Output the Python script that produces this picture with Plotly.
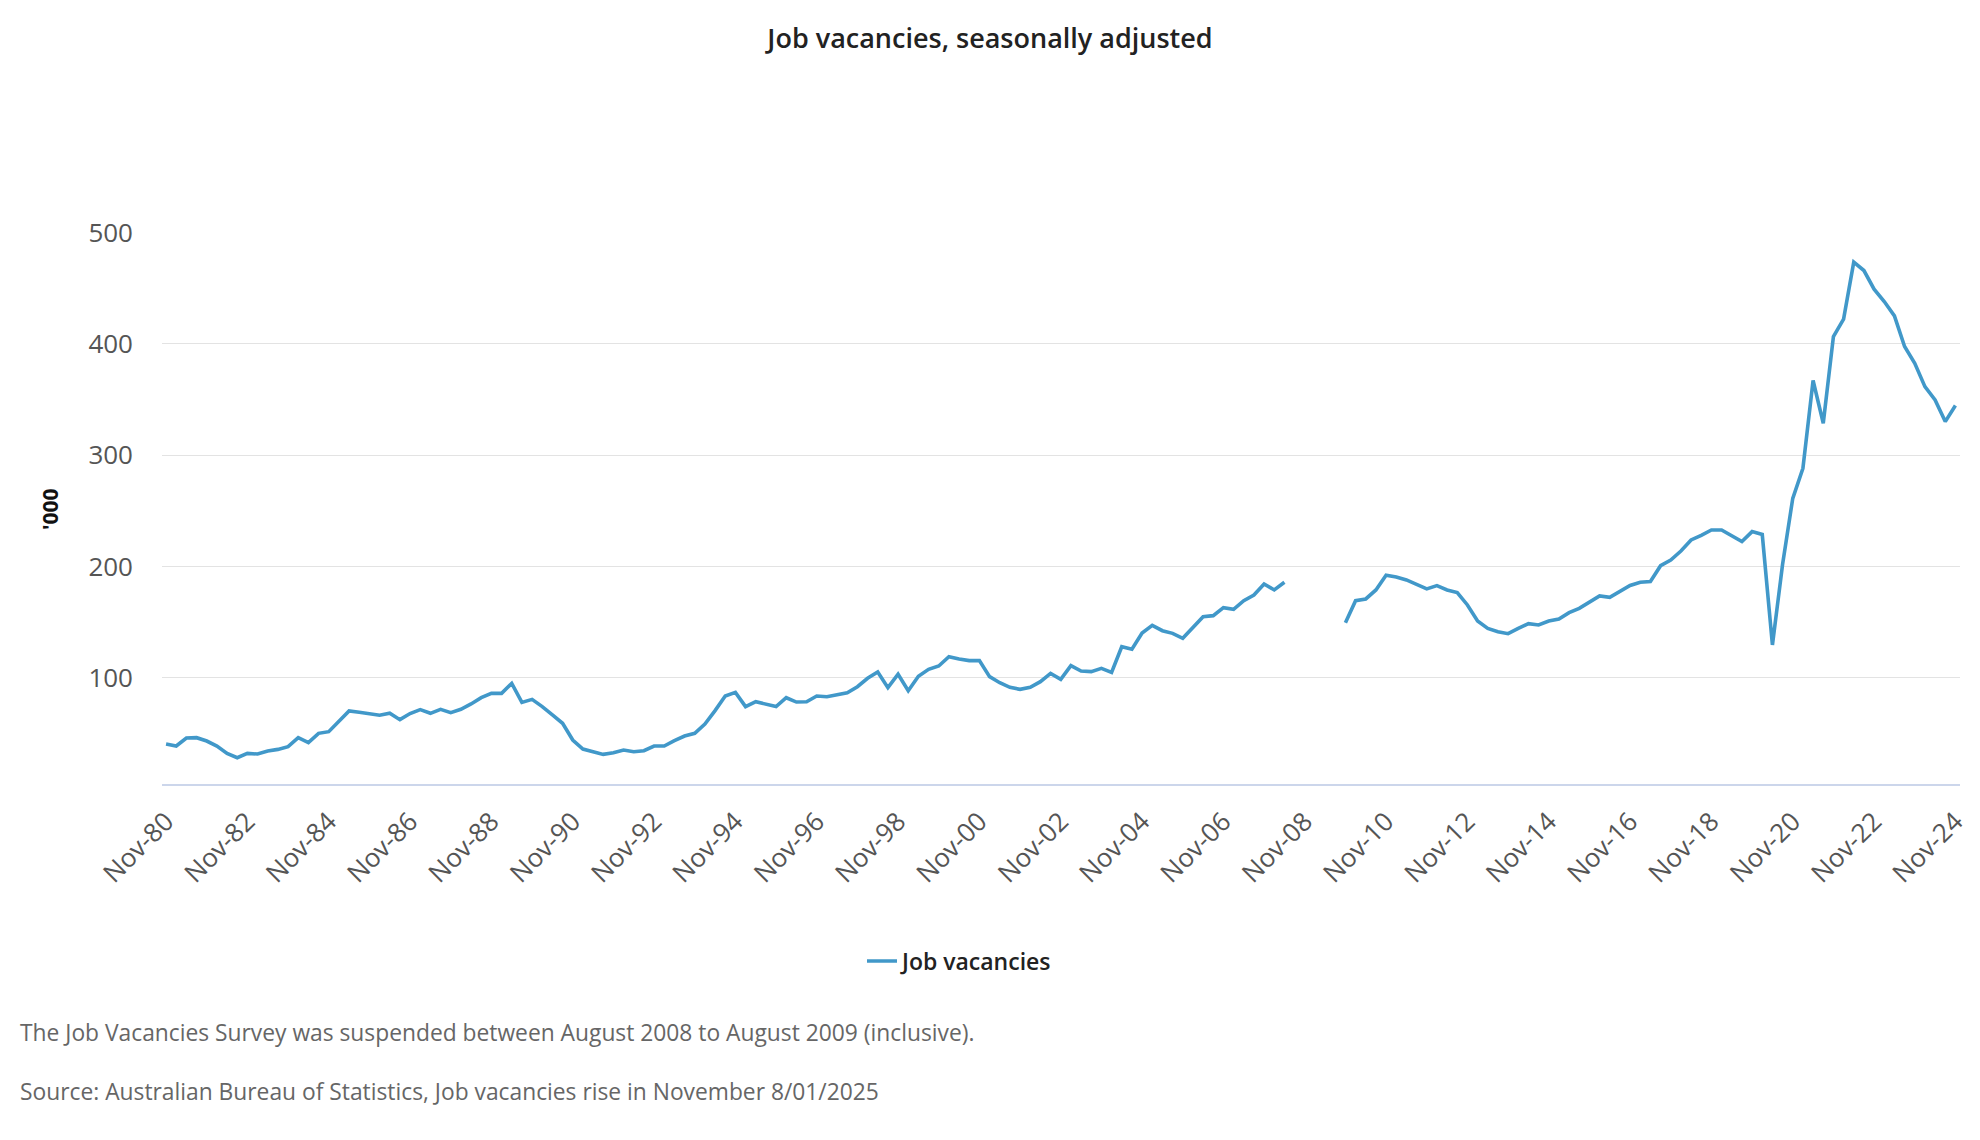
import plotly.graph_objects as go

# Quarterly job vacancies ('000), Nov-80 .. Nov-24; None = survey suspended
months = ["Nov", "Feb", "May", "Aug"]
start_year = 1980
end_year = 2024

vacancies = [
    40.6, 38.8, 46.0, 46.3, 43.3, 38.8, 32.2, 28.3, 32.2, 31.6,
    34.3, 35.8, 38.2, 46.3, 41.8, 50.2, 51.7, 61.3, 70.3, 69.1,
    68.0, 66.5, 68.3, 62.5, 68.0, 71.5, 68.2, 71.8, 68.8, 71.8,
    76.6, 82.2, 86.1, 86.1, 95.1, 78.0, 80.7, 74.2, 66.7, 59.2,
    44.2, 36.1, 33.7, 31.3, 32.8, 35.2, 33.7, 34.6, 38.8, 38.8,
    43.6, 47.8, 50.2, 58.6, 70.6, 83.7, 87.0, 74.2, 78.6, 76.2,
    74.2, 82.2, 78.3, 78.6, 83.7, 83.1, 84.6, 86.7, 92.1, 99.6,
    105.3, 91.2, 103.3, 88.5, 101.5, 107.7, 110.7, 119.0, 116.9, 115.5,
    115.5, 101.1, 95.7, 91.5, 89.7, 91.5, 96.6, 104.1, 98.7, 111.0,
    106.2, 105.6, 108.6, 105.0, 128.0, 125.7, 140.3, 147.2, 142.4, 140.0,
    135.6, 145.4, 155.0, 155.9, 163.1, 161.6, 169.4, 174.5, 184.4, 179.0,
    185.9, None, None, None, None, None, 149.6, 169.4, 170.9, 179.0,
    192.2, 190.7, 188.0, 184.0, 179.9, 182.9, 179.0, 176.6, 165.5, 151.1,
    144.5, 141.5, 139.7, 144.5, 148.7, 147.5, 151.1, 152.9, 158.6, 162.5,
    167.9, 173.6, 172.4, 177.5, 183.0, 185.9, 186.5, 200.8, 205.9, 214.0,
    223.9, 228.1, 232.9, 232.9, 227.8, 222.4, 231.4, 228.8, 129.6, 202.0,
    261.3, 288.3, 367.1, 328.7, 406.6, 422.2, 473.4, 465.9, 449.1, 438.0,
    425.2, 397.6, 382.6, 361.6, 349.7, 330.2, 344.6,
]

# category labels (quarters)
categories = []
for i in range(len(vacancies)):
    m = months[i % 4]
    yr = start_year + (i + 3) // 4 if i % 4 != 0 else start_year + i // 4
    categories.append(f"{m}-{yr % 100:02d}")

tick_labels = [f"Nov-{y % 100:02d}" for y in range(start_year, end_year + 1, 2)]
y_ticks = [100, 200, 300, 400, 500]

title_text = "Job vacancies, seasonally adjusted"
series_name = "Job vacancies"
y_title = "'000"
note1 = "The Job Vacancies Survey was suspended between August 2008 to August 2009 (inclusive)."
note2 = "Source: Australian Bureau of Statistics, Job vacancies rise in November 8/01/2025"

FONT = "Open Sans"
LINE = "#4198C9"

fig = go.Figure()
fig.add_trace(go.Scatter(
    x=categories, y=vacancies, mode="lines", name=series_name,
    line=dict(color=LINE, width=3.6), connectgaps=False,
))

OFF = 8  # default page body margin
W, H = 1980, 1140
# page-pixel positions of the plot area
P_L, P_R, P_T, P_B = 162, 1960, 232, 784
L, T = P_L - OFF, P_T - OFF
R = W - (P_R - OFF)
B = H - (P_B - OFF)
plot_h = P_B - P_T
plot_w = P_R - P_L

def px_x(x):
    return (x - P_L) / plot_w

def px_y(y):
    return (P_B - y) / plot_h

fig.update_layout(
    width=W, height=H,
    margin=dict(l=L, r=R, t=T, b=B),
    paper_bgcolor="white", plot_bgcolor="white",
    font=dict(family=FONT, color="#555555", size=26),
    title=dict(text=title_text, x=(990 - OFF) / W, xref="container", xanchor="center",
               y=1 - (39 - OFF) / H, yref="container", yanchor="middle",
               font=dict(family=FONT, size=27, color="#222222", weight=600)),
    showlegend=True,
    legend=dict(orientation="h", xref="container", yref="container",
                x=(862 - OFF) / W, xanchor="left", y=1 - (961 - OFF) / H, yanchor="middle",
                font=dict(family=FONT, size=23, color="#222222", weight=600),
                itemwidth=30),
    xaxis=dict(
        type="category", range=[-0.4, len(vacancies) - 0.55],
        tickmode="array", tickvals=tick_labels, ticktext=tick_labels,
        tickangle=-45, showgrid=False, showline=True, linecolor="#ccd6eb",
        linewidth=1.5, ticks="", ticklabelstandoff=10,
        tickfont=dict(family=FONT, size=26, color="#555555"), zeroline=False,
    ),
    yaxis=dict(
        range=[4.7, 500.5], tickmode="array", tickvals=y_ticks,
        showgrid=True, gridcolor="#e3e3e3", gridwidth=1, zeroline=False,
        showline=False, ticks="", ticklabelstandoff=28,
        tickfont=dict(family=FONT, size=26, color="#555555"),
    ),
    annotations=[
        dict(text=y_title, xref="paper", yref="paper", x=px_x(50), y=px_y(509),
             xanchor="center", yanchor="middle", textangle=-90, showarrow=False,
             font=dict(family=FONT, size=21, color="#111111", weight=700)),
        dict(text=note1, xref="paper", yref="paper", x=px_x(18), y=px_y(1032),
             xanchor="left", yanchor="middle", showarrow=False,
             font=dict(family=FONT, size=22.8, color="#666666")),
        dict(text=note2, xref="paper", yref="paper", x=px_x(18), y=px_y(1091),
             xanchor="left", yanchor="middle", showarrow=False,
             font=dict(family=FONT, size=22.8, color="#666666")),
    ],
)

fig.write_html("out.html")
